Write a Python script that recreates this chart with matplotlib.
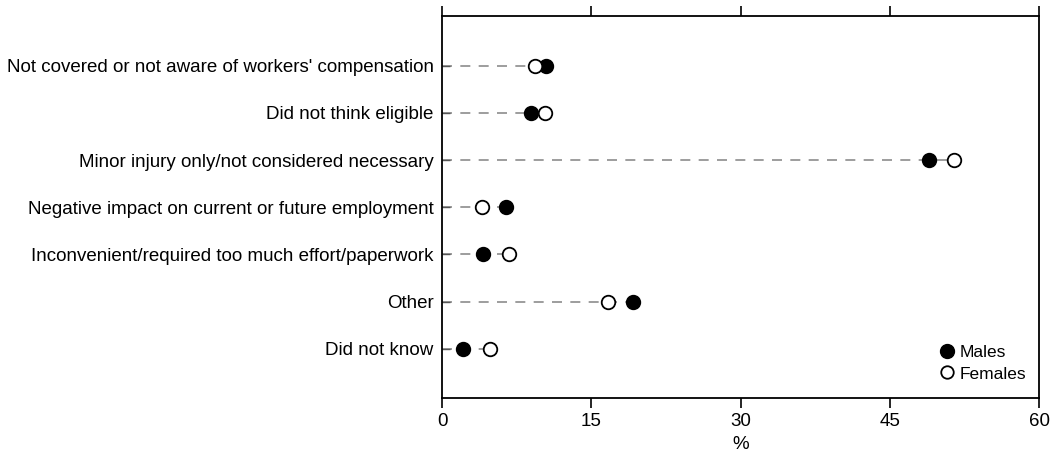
import matplotlib.pyplot as plt
from matplotlib.lines import Line2D

categories = [
    "Not covered or not aware of workers' compensation",
    "Did not think eligible",
    "Minor injury only/not considered necessary",
    "Negative impact on current or future employment",
    "Inconvenient/required too much effort/paperwork",
    "Other",
    "Did not know",
]
males = [10.5, 8.9, 48.9, 6.4, 4.15, 19.2, 2.1]
females = [9.3, 10.4, 51.5, 4.05, 6.7, 16.7, 4.8]
xticks = [0, 15, 30, 45, 60]

plt.rcParams['font.family'] = ['Liberation Sans', 'DejaVu Sans']

fig = plt.figure(figsize=(10.51, 4.55), dpi=100)
ax = fig.add_axes([442 / 1051, 1 - 398 / 455, 597 / 1051, 382 / 455])

ys = list(range(len(categories)))
for y, m, f in zip(ys, males, females):
    ax.plot([0, max(m, f)], [y, y], color='#8c8c8c', lw=1.2,
            dashes=(6, 5), zorder=1)

ax.scatter(males, ys, s=95, facecolor='black', edgecolor='black',
           linewidth=1.3, zorder=3)
ax.scatter(females, ys, s=95, facecolor='white', edgecolor='black',
           linewidth=1.3, zorder=3)

ax.set_xlim(0, 60)
ax.set_ylim(len(categories) - 1 + 1.04, -1.05)
ax.set_xticks(xticks)
ax.set_xticklabels([str(t) for t in xticks], fontsize=13.5)
ax.set_yticks(ys)
ax.set_yticklabels(categories, fontsize=13.5)
ax.tick_params(axis='y', direction='in', length=6, width=1, color='#555555',
               pad=6)
ax.tick_params(axis='x', direction='out', length=7, width=1.2,
               top=True, labeltop=False, pad=4)
for s in ax.spines.values():
    s.set_linewidth(1.3)
ax.set_xlabel('%', fontsize=13.5, labelpad=4)

handles = [
    Line2D([], [], marker='o', ls='', markersize=10, markerfacecolor='black',
           markeredgecolor='black'),
    Line2D([], [], marker='o', ls='', markersize=9, markerfacecolor='white',
           markeredgecolor='black', markeredgewidth=1.3),
]
ax.legend(handles, ['Males', 'Females'], loc='lower right',
          bbox_to_anchor=(0.99, 0.025), frameon=False,
          fontsize=12.5, handletextpad=0.1, labelspacing=0.35,
          borderaxespad=0, handlelength=1.2)

fig.savefig('out.png', dpi=100)
